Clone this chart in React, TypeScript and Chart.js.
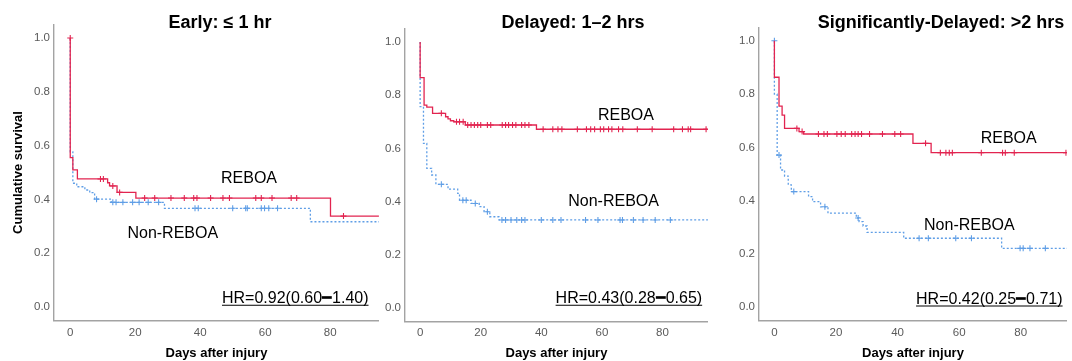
import React, { useEffect, useRef } from "react";
import { Chart, registerables } from "chart.js";

Chart.register(...registerables);

const FONT = '"Liberation Sans", Arial, Helvetica, sans-serif';
const RED = "rgb(226, 36, 80)";
const BLUE = "rgb(95, 158, 230)";

// ---- Data (days after injury, cumulative survival after each step) ----
// Early: <= 1 hr
const earlyRebDays = [0, 0, 0.8, 2.2, 11.5, 12.1, 14.4, 20.2, 80.1];
const earlyRebSurv = [1.0, 0.555, 0.51, 0.476, 0.462, 0.45, 0.426, 0.405, 0.338];
const earlyRebCens = [0, 9.3, 10.2, 13.1, 15.2, 22.9, 26, 31, 35.1, 38, 39, 43.2, 47, 49, 57.1, 58.8, 62.1, 68, 69.7, 84.1];
const earlyNonDays = [0, 0, 0.8, 2, 4.5, 6, 7.5, 12.6, 29, 73.9];
const earlyNonSurv = [1.0, 0.577, 0.46, 0.447, 0.435, 0.425, 0.401, 0.389, 0.367, 0.317];
const earlyNonCens = [8.1, 13.1, 14.1, 16.2, 19.2, 21.2, 24, 27.2, 38.4, 39.4, 50, 54, 54.5, 58.8, 59.8, 61.1, 63.8];

// Delayed: 1-2 hrs
const delRebDays = [0, 0, 1.3, 2.2, 4.1, 8.4, 9.2, 10, 11.1, 14.9, 38.4];
const delRebSurv = [1.0, 0.866, 0.763, 0.755, 0.732, 0.719, 0.711, 0.704, 0.7, 0.688, 0.672];
const delRebCens = [7, 12, 13, 14.2, 15.7, 16.8, 17.9, 19, 20, 22.2, 23.3, 27.1, 28.2, 29.2, 30.5, 31.6, 33.5, 34.6, 35.9,
  40.6, 43.8, 45.5, 46.8, 51.9, 54.9, 56.3, 57.6, 59.5, 60.6, 62.2, 63.3, 65.5, 66.9, 71.7, 76.6, 83.7, 86.6, 88.5, 89.3, 94.4];
const delNonDays = [0, 0, 1.1, 2.2, 3.8, 5.2, 9.2, 12.4, 13, 16.8, 19.5, 21.1, 23, 26];
const delNonSurv = [1.0, 0.757, 0.619, 0.525, 0.5, 0.465, 0.447, 0.431, 0.405, 0.393, 0.381, 0.362, 0.343, 0.331];
const delNonCens = [7, 14.1, 15.2, 18.2, 22.2, 27, 28.2, 30, 31.9, 33.5, 34.6, 40, 43.8, 46.5, 54.6, 58.7, 66, 66.8, 70.4, 73.6, 77.6, 82.6];

// Significantly-Delayed: >2 hrs
const sigRebDays = [0, 0, 1.5, 2.5, 3.3, 8, 9.5, 45, 50.9];
const sigRebSurv = [1.0, 0.863, 0.755, 0.721, 0.671, 0.659, 0.65, 0.615, 0.58];
const sigRebCens = [7.3, 9, 14.3, 16.1, 17.2, 20.3, 21.7, 23, 25.1, 26.2, 27.2, 28.3, 30.9, 35.1, 39.1, 41, 49.1,
  53.9, 55.7, 56.8, 57.8, 67.2, 74.1, 75, 77.9, 94.7];
const sigNonDays = [0, 0, 0.9, 2, 3.3, 4.5, 5.5, 11.1, 12.4, 15, 17.4, 26.6, 27.5, 28.8, 30.1, 42, 73.8];
const sigNonSurv = [1.0, 0.8, 0.571, 0.515, 0.492, 0.459, 0.434, 0.415, 0.396, 0.377, 0.353, 0.335, 0.321, 0.305, 0.281, 0.259, 0.221];
const sigNonCens = [0, 1.5, 6.3, 16.4, 27.2, 47, 50, 58.9, 64, 79.8, 80.8, 83, 88];

const panelTitles = ["Early: \u2264 1 hr", "Delayed: 1\u20132 hrs", "Significantly-Delayed: >2 hrs"];
const hrLabels = ["HR=0.92(0.60\u25011.40)", "HR=0.43(0.28\u25010.65)", "HR=0.42(0.25\u25010.71)"];
const groupLabels = ["REBOA", "Non-REBOA"];
const xTickValues = [0, 20, 40, 60, 80];
const yTickValues = [0, 0.2, 0.4, 0.6, 0.8, 1.0];
const X_MIN = -5;
const X_MAX = 95;
const Y_MIN = -0.05;
const Y_MAX = 1.05;

type Layout = {
  left: number; width: number; yAxisW: number; top: number; bottom: number; yTitle: boolean;
  titleX: number; rebX: number; rebY: number; nonX: number; nonY: number; hrX: number; hrY: number;
};

const layouts: Layout[] = [
  { left: 0, width: 384, yAxisW: 54, top: 24.5, bottom: 320.5, yTitle: true, titleX: 220, rebX: 46.4, rebY: 0.46, nonX: 17.6, nonY: 0.255, hrX: 91.8, hrY: 0.014 },
  { left: 384, width: 329, yAxisW: 21, top: 28.7, bottom: 321.3, yTitle: false, titleX: 189, rebX: 58.7, rebY: 0.707, nonX: 48.9, nonY: 0.383, hrX: 93.1, hrY: 0.018 },
  { left: 713, width: 359, yAxisW: 46, top: 27.4, bottom: 320.6, yTitle: false, titleX: 228, rebX: 67, rebY: 0.617, nonX: 48.6, nonY: 0.29, hrX: 93.6, hrY: 0.012 },
];

const seriesSets = [
  { rd: earlyRebDays, rs: earlyRebSurv, rc: earlyRebCens, nd: earlyNonDays, ns: earlyNonSurv, nc: earlyNonCens },
  { rd: delRebDays, rs: delRebSurv, rc: delRebCens, nd: delNonDays, ns: delNonSurv, nc: delNonCens },
  { rd: sigRebDays, rs: sigRebSurv, rc: sigRebCens, nd: sigNonDays, ns: sigNonSurv, nc: sigNonCens },
];

function stepPoints(days: number[], surv: number[]) {
  const pts = days.map((d, i) => ({ x: d, y: surv[i] }));
  pts.push({ x: X_MAX + 1, y: surv[surv.length - 1] });
  return pts;
}

function censorPoints(days: number[], surv: number[], cens: number[]) {
  return cens.map((t) => {
    let v = surv[0];
    for (let i = 0; i < days.length; i++) if (days[i] < t) v = surv[i];
    return { x: t, y: v };
  });
}

function makeAnnotPlugin(idx: number) {
  const L = layouts[idx];
  return {
    id: "annot" + idx,
    afterDraw(chart: any) {
      const ctx = chart.ctx as CanvasRenderingContext2D;
      const xs = chart.scales.x;
      const ys = chart.scales.y;
      ctx.save();
      ctx.fillStyle = "#000";
      ctx.textBaseline = "alphabetic";
      ctx.font = `bold 18px ${FONT}`;
      ctx.textAlign = "center";
      ctx.fillText(panelTitles[idx], L.titleX, 27.5);
      ctx.font = `16px ${FONT}`;
      ctx.textAlign = "left";
      ctx.fillText(groupLabels[0], xs.getPixelForValue(L.rebX), ys.getPixelForValue(L.rebY));
      ctx.fillText(groupLabels[1], xs.getPixelForValue(L.nonX), ys.getPixelForValue(L.nonY));
      ctx.textAlign = "right";
      const hx = xs.getPixelForValue(L.hrX);
      const hy = ys.getPixelForValue(L.hrY);
      ctx.fillText(hrLabels[idx], hx, hy);
      const w = ctx.measureText(hrLabels[idx]).width;
      ctx.strokeStyle = "#000";
      ctx.lineWidth = 1.1;
      ctx.beginPath();
      ctx.moveTo(hx - w, hy + 2);
      ctx.lineTo(hx, hy + 2);
      ctx.stroke();
      ctx.restore();
    },
  };
}

function Panel({ idx }: { idx: number }) {
  const ref = useRef<HTMLCanvasElement>(null);
  useEffect(() => {
    const L = layouts[idx];
    const s = seriesSets[idx];
    const tickFont = { family: FONT, size: 11.5 };
    const chart = new Chart(ref.current as HTMLCanvasElement, {
      type: "line",
      data: {
        datasets: [
          { type: "line", data: stepPoints(s.rd, s.rs), borderColor: RED, borderWidth: 1.3, stepped: "before", pointRadius: 0, fill: false },
          { type: "scatter", data: censorPoints(s.rd, s.rs, s.rc), pointStyle: "cross", pointRadius: 3, borderColor: RED, backgroundColor: RED, pointBorderWidth: 1.1, showLine: false } as any,
          { type: "line", data: stepPoints(s.nd, s.ns), borderColor: BLUE, borderWidth: 1.3, borderDash: [2, 2], stepped: "before", pointRadius: 0, fill: false },
          { type: "scatter", data: censorPoints(s.nd, s.ns, s.nc), pointStyle: "cross", pointRadius: 3, borderColor: BLUE, backgroundColor: BLUE, pointBorderWidth: 1.1, showLine: false } as any,
        ],
      } as any,
      options: {
        animation: false,
        responsive: false,
        maintainAspectRatio: false,
        events: [],
        layout: { padding: { top: L.top, left: 0, right: 0, bottom: 0 } },
        plugins: { legend: { display: false }, tooltip: { enabled: false }, title: { display: false } },
        scales: {
          x: {
            type: "linear",
            min: X_MIN,
            max: X_MAX,
            afterBuildTicks: (sc: any) => { sc.ticks = xTickValues.map((v) => ({ value: v })); },
            afterFit: (sc: any) => { sc.height = 361 - L.bottom; },
            ticks: { font: tickFont, color: "#5a5a5a", padding: 5, maxRotation: 0, callback: (v: any) => String(v) },
            grid: { display: false, drawTicks: false, tickLength: 0 },
            border: { display: true, color: "#a3a3a3", width: 1.4 },
            title: { display: true, text: "Days after injury", color: "#000", font: { family: FONT, size: 13, weight: "bold" }, padding: { top: 0, bottom: 0 } },
          },
          y: {
            type: "linear",
            min: Y_MIN,
            max: Y_MAX,
            afterBuildTicks: (sc: any) => { sc.ticks = yTickValues.map((v) => ({ value: v })); },
            afterFit: (sc: any) => { sc.width = L.yAxisW; },
            ticks: { font: tickFont, color: "#5a5a5a", padding: 4, callback: (v: any) => Number(v).toFixed(1) },
            grid: { display: false, drawTicks: false, tickLength: 0 },
            border: { display: true, color: "#a3a3a3", width: 1.4 },
            title: { display: L.yTitle, text: "Cumulative survival", color: "#000", font: { family: FONT, size: 13, weight: "bold" }, padding: { top: 11, bottom: 0 } },
          },
        },
      } as any,
      plugins: [makeAnnotPlugin(idx)],
    });
    return () => chart.destroy();
  }, [idx]);
  const L = layouts[idx];
  return (
    <canvas
      ref={ref}
      width={L.width}
      height={361}
      style={{ position: "absolute", left: L.left, top: 0, width: L.width, height: 361 }}
    />
  );
}

export default function App() {
  return (
    <div style={{ position: "fixed", left: 0, top: 0, width: 1072, height: 361, background: "#fff", overflow: "hidden" }}>
      <Panel idx={0} />
      <Panel idx={1} />
      <Panel idx={2} />
    </div>
  );
}
